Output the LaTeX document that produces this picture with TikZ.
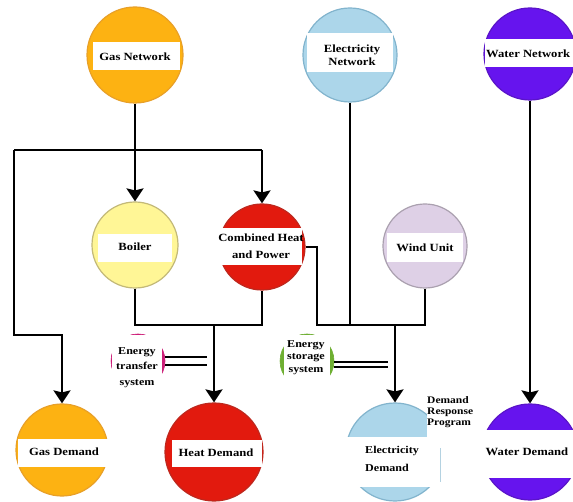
\documentclass[tikz,border=0pt]{standalone}
\usepackage{fontspec}
\setmainfont{Liberation Serif}
\newfontfamily\labfont[FakeStretch=1.15]{Liberation Serif}
\usetikzlibrary{arrows.meta}
\definecolor{gasc}{RGB}{253,178,18}
\definecolor{gasd}{RGB}{232,160,40}
\definecolor{boic}{RGB}{255,246,150}
\definecolor{boid}{RGB}{195,185,120}
\definecolor{redc}{RGB}{226,26,14}
\definecolor{redd}{RGB}{190,40,30}
\definecolor{elec}{RGB}{172,214,234}
\definecolor{eled}{RGB}{130,180,205}
\definecolor{winc}{RGB}{222,208,230}
\definecolor{windd}{RGB}{170,160,175}
\definecolor{watc}{RGB}{102,20,238}
\definecolor{watd}{RGB}{90,20,200}
\definecolor{magc}{RGB}{205,30,120}
\definecolor{grnc}{RGB}{110,175,50}
\tikzset{
  disc/.style={circle, inner sep=0pt, line width=1.2pt},
  band/.style={fill=white, draw=none, inner sep=0pt, rectangle},
  lab/.style={font=\labfont\bfseries\fontsize{11}{13.5}\selectfont, align=center, inner sep=0pt},
  smalllab/.style={font=\labfont\bfseries\fontsize{10}{11}\selectfont, align=left, inner sep=0pt},
  wire/.style={line width=2.3pt, black},
  arr/.style={wire, -{Stealth[length=13pt,width=17pt,inset=2pt]}},
  dbl/.style={line width=2.2pt, black},
}
\begin{document}
\begin{tikzpicture}[x=1pt,y=-1pt]
\useasboundingbox (0,0) rectangle (573,502);
\clip (0,0) rectangle (573,502);
\fill[white] (0,0) rectangle (573,502);

% discs
\node[disc, fill=gasc, draw=gasd, minimum size=96pt] (gn) at (135,55) {};
\node[disc, fill=elec, draw=eled, minimum size=94pt] (en) at (350,55) {};
\node[disc, fill=watc, draw=watd, minimum size=92pt] (wn) at (530,54) {};
\node[disc, fill=boic, draw=boid, minimum size=86pt] (bo) at (135,245) {};
\node[disc, fill=redc, draw=redd, minimum size=86pt] (chp) at (262,247) {};
\node[disc, fill=winc, draw=windd, minimum size=84pt] (wu) at (425,246) {};
\node[disc, fill=gasc, draw=gasd, minimum size=92pt] (gd) at (62,450) {};
\node[disc, fill=redc, draw=redd, minimum size=98pt] (hd) at (214,452) {};
\node[disc, fill=elec, draw=eled, minimum size=98pt] (ed) at (395,452) {};
\node[disc, fill=watc, draw=watd, minimum size=96pt] (wd) at (530,452) {};
\node[disc, fill=magc, draw=magc, line width=0.6pt, minimum size=54pt] (et) at (138,361) {};
\node[disc, fill=grnc, draw=grnc, line width=0.6pt, minimum size=54pt] (es) at (307,361) {};

% white bands
\node[band, minimum width=87pt, minimum height=28pt] (gnb) at (136.5,56) {};
\node[band, minimum width=86pt, minimum height=39pt] (enb) at (350,52.5) {};
\node[band, minimum width=90pt, minimum height=28pt] (wnb) at (530,53) {};
\node[band, minimum width=74pt, minimum height=28pt] (bob) at (135,248) {};
\node[band, minimum width=84pt, minimum height=37pt] (chpb) at (260,246.5) {};
\node[band, minimum width=76pt, minimum height=29pt] (wub) at (425,247.5) {};
\node[band, minimum width=92pt, minimum height=28pt] (gdb) at (64,453) {};
\node[band, minimum width=90pt, minimum height=27pt] (hdb) at (217,453.5) {};
\node[band, minimum width=104pt, minimum height=50pt] (edb) at (395,462) {};
\node[band, minimum width=97pt, minimum height=48pt] (wdb) at (529,454) {};
\node[band, minimum width=50pt, minimum height=62pt] (etb) at (136.5,366) {};
\node[band, minimum width=46pt, minimum height=62pt] (esb) at (307,366) {};
\node[band, minimum width=56pt, minimum height=57pt] (drb) at (455,418.5) {};
\draw[eled!60, line width=0.8pt] (440,448) -- (440,482);

% labels
\node[lab] (gnl) at (135,57) {Gas Network};
\node[lab] (enl) at (352,55) {Electricity\\Network};
\node[lab, anchor=west] (wnl) at (486,54) {Water Network};
\node[lab] (bol) at (135,247) {Boiler};
\node[lab, font=\labfont\bfseries\fontsize{11}{17}\selectfont] (chpl) at (261,246) {Combined Heat\\and Power};
\node[lab] (wul) at (425,248) {Wind Unit};
\node[lab] (gdl) at (64,452) {Gas Demand};
\node[lab] (hdl) at (216,453) {Heat Demand};
\node[lab, font=\labfont\bfseries\fontsize{10.5}{18}\selectfont, align=left, anchor=west] (edl) at (365,459) {Electricity\\Demand};
\node[lab] (wdl) at (527,452) {Water Demand};
\node[lab, font=\labfont\bfseries\fontsize{10.5}{15.5}\selectfont] (etl) at (137,367.5) {Energy\\transfer\\system};
\node[lab, font=\labfont\bfseries\fontsize{10.5}{12.5}\selectfont] (esl) at (306,357.5) {Energy\\storage\\system};
\node[smalllab, anchor=west] (drl) at (427,412.5) {Demand\\Response\\Program};

% junctions
\coordinate (gj) at (135,150);
\coordinate (lj) at (14,150);
\coordinate (rj) at (262,150);
\coordinate (gl) at (14,335);
\coordinate (gdj) at (62,335);
\coordinate (hb) at (135,325);
\coordinate (hc) at (262,325);
\coordinate (hj) at (214,325);
\coordinate (cpc) at (317,247);
\coordinate (ebl) at (317,325);
\coordinate (ebr) at (425,325);
\coordinate (enj) at (350,325);
\coordinate (ej) at (395,325);

% wires
\draw[wire] (gn) -- (gj);
\draw[wire] (lj) -- (rj);
\draw[arr] (gj) -- (bo);
\draw[arr] (rj) -- (chp);
\draw[arr] (lj) -- (gl) -- (gdj) -- (gd);
\draw[wire] (bo) -- (hb) -- (hc) -- (chp);
\draw[arr] (hj) -- (hd);
\draw[wire] (chp.east) -- (cpc) -- (ebl) -- (ebr) -- (wu);
\draw[wire] (en) -- (enj);
\draw[arr] (ej) -- (ed);
\draw[arr] (wn) -- (wd);

% double links
\draw[dbl] ([yshift=4pt]et.east) -- ++(42,0);
\draw[dbl] ([yshift=-4pt]et.east) -- ++(42,0);
\draw[dbl] ([yshift=-1pt]es.east) -- ++(54,0);
\draw[dbl] ([yshift=-6pt]es.east) -- ++(54,0);
\end{tikzpicture}
\end{document}
